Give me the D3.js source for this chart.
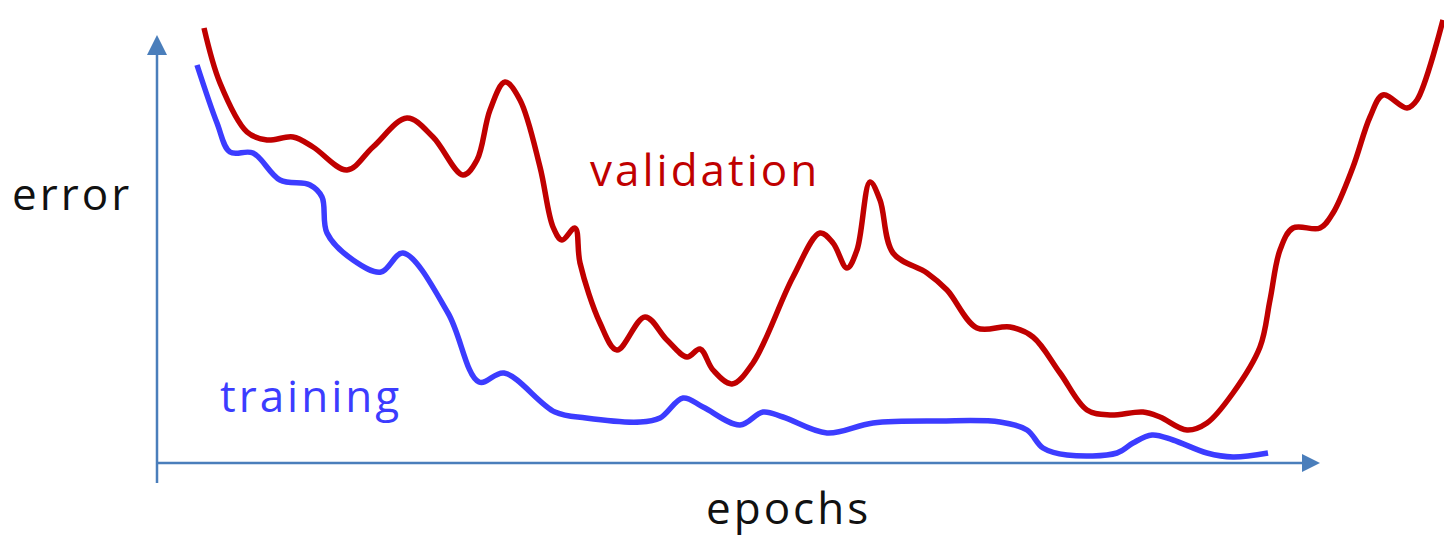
<!DOCTYPE html>
<html>
<head>
<meta charset="utf-8">
<script src="https://cdn.jsdelivr.net/npm/d3@7"></script>
<style>
  html, body { margin: 0; padding: 0; background: #fff; }
  svg { display: block; }
  text { font-family: "Open Sans", "Noto Sans", sans-serif; letter-spacing: 3px; }
</style>
</head>
<body>
<div class="chart"></div>
<script>
const w = 1444;
const h = 538;

// epochs (x) and error (y)
const validationEpochs = [4.7, 6.3, 9.0, 11.0, 13.6, 15.6, 19.0, 21.6, 25.0, 27.6, 30.6, 32.0, 33.3, 34.8, 36.3, 38.3, 39.6, 40.5, 41.8, 42.3, 44.3, 46.0, 48.8, 51.0, 53.0, 54.3, 55.6, 57.5, 59.6, 63.6, 66.3, 67.6, 69.0, 70.0, 71.3, 72.3, 73.6, 77.0, 79.0, 82.0, 85.3, 87.6, 90.3, 93.0, 95.3, 98.6, 100.3, 103.0, 105.0, 107.6, 110.3, 111.3, 112.3, 113.6, 116.3, 117.6, 119.6, 121.3, 122.6, 125.0, 126.0, 128.6];
const validationError = [43.5, 38.0, 33.1, 32.3, 32.6, 31.6, 29.3, 31.6, 34.5, 32.6, 28.8, 30.3, 35.3, 38.1, 36.3, 29.6, 23.6, 22.3, 23.5, 20.0, 14.0, 11.3, 14.6, 12.3, 10.6, 11.4, 9.3, 7.9, 10.0, 18.6, 23.0, 22.0, 19.5, 21.3, 28.1, 26.3, 21.0, 19.0, 17.3, 13.5, 13.6, 12.6, 9.0, 5.3, 4.8, 5.1, 4.6, 3.3, 4.0, 7.0, 11.6, 16.3, 21.3, 23.5, 23.5, 25.0, 29.6, 34.6, 36.8, 35.5, 36.3, 44.3];

const trainingEpochs = [4.0, 6.0, 7.3, 9.6, 12.3, 15.3, 16.5, 17.0, 19.6, 22.4, 24.6, 29.1, 32.2, 34.7, 39.8, 42.9, 48.3, 50.3, 52.6, 54.6, 58.3, 60.6, 62.6, 67.0, 71.6, 78.3, 84.3, 87.0, 88.6, 91.0, 96.0, 97.6, 99.5, 101.6, 105.0, 107.6, 111.1];
const trainingError = [39.8, 34.0, 31.1, 31.0, 28.3, 27.8, 26.6, 23.0, 20.3, 19.1, 21.0, 15.0, 8.1, 9.0, 5.1, 4.5, 4.1, 4.5, 6.5, 5.6, 3.8, 5.1, 4.6, 3.0, 4.0, 4.2, 4.1, 3.3, 1.5, 0.8, 1.0, 2.0, 2.8, 2.3, 1.0, 0.6, 1.0];

const axisLabels = ["error", "epochs"];
const seriesLabels = ["validation", "training"];

const axisColor = "#4a7ebb";
const validationColor = "#c00000";
const trainingColor = "#3c3cff";

const svg = d3.select(".chart")
  .append("svg")
  .attr("width", w)
  .attr("height", h);

const x = d3.scaleLinear().domain([0, 128.7]).range([157, 1444]);
const y = d3.scaleLinear().domain([0, 46.3]).range([463, 0]);

// axes with arrow heads
const axes = svg.append("g");

axes.append("line")
  .attr("x1", x(0)).attr("x2", x(114.5))
  .attr("y1", y(0)).attr("y2", y(0))
  .attr("stroke", axisColor)
  .attr("stroke-width", 2.5);

axes.append("path")
  .attr("d", `M${x(116.3)},${y(0)} L${x(114.5)},${y(0) - 9} L${x(114.5)},${y(0) + 9} Z`)
  .attr("fill", axisColor);

axes.append("line")
  .attr("x1", x(0)).attr("x2", x(0))
  .attr("y1", y(-2)).attr("y2", y(40.8))
  .attr("stroke", axisColor)
  .attr("stroke-width", 2.5);

axes.append("path")
  .attr("d", `M${x(0)},${y(42.8)} L${x(0) - 10},${y(40.8)} L${x(0) + 10},${y(40.8)} Z`)
  .attr("fill", axisColor);

const line = d3.line()
  .x(d => x(d[0]))
  .y(d => y(d[1]))
  .curve(d3.curveCatmullRom.alpha(0.5));

svg.append("path")
  .datum(d3.zip(validationEpochs, validationError))
  .attr("d", line)
  .attr("fill", "none")
  .attr("stroke", validationColor)
  .attr("stroke-width", 5.5)
  .attr("stroke-linejoin", "round");

svg.append("path")
  .datum(d3.zip(trainingEpochs, trainingError))
  .attr("d", line)
  .attr("fill", "none")
  .attr("stroke", trainingColor)
  .attr("stroke-width", 5.5)
  .attr("stroke-linejoin", "round")
  .attr("stroke-linecap", "butt");

// labels
svg.append("text")
  .attr("x", 12).attr("y", 210)
  .attr("font-size", "44px")
  .attr("fill", "#111")
  .text(axisLabels[0]);

svg.append("text")
  .attr("x", 706).attr("y", 524)
  .attr("font-size", "44px")
  .attr("fill", "#111")
  .text(axisLabels[1]);

svg.append("text")
  .attr("x", 590).attr("y", 186)
  .attr("font-size", "44px")
  .attr("fill", validationColor)
  .text(seriesLabels[0]);

svg.append("text")
  .attr("x", 220).attr("y", 412)
  .attr("font-size", "44px")
  .attr("fill", trainingColor)
  .text(seriesLabels[1]);
</script>
</body>
</html>
